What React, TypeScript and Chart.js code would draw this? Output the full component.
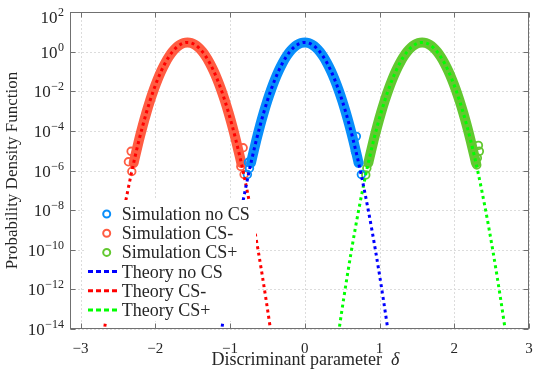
import React, { useEffect, useRef } from "react";
import { Chart, registerables } from "chart.js";

Chart.register(...registerables);

// ---------- axis ranges & ticks ----------
const xMin = -3.1416;
const xMax = 3;
const yMin = 1e-14;
const yMax = 1e2;

const xTickValues = [-3, -2, -1, 0, 1, 2, 3];
const xTickLabels = ["−3", "−2", "−1", "0", "1", "2", "3"];
const yTickValues = [1e-14, 1e-12, 1e-10, 1e-8, 1e-6, 1e-4, 1e-2, 1e0, 1e2];
const yTickExponents = ["−14", "−12", "−10", "−8", "−6", "−4", "−2", "0", "2"];

const seriesLabels = [
  "Simulation no CS",
  "Simulation CS-",
  "Simulation CS+",
  "Theory no CS",
  "Theory CS-",
  "Theory CS+",
];

// ---------- simulation (histogram) bands ----------
const simNoCsX = [-0.72, -0.7, -0.65, -0.6, -0.55, -0.5, -0.45, -0.4, -0.35, -0.3, -0.25, -0.2, -0.15, -0.1, -0.05, 0, 0.05, 0.1, 0.15, 0.2, 0.25, 0.3, 0.35, 0.4, 0.45, 0.5, 0.55, 0.6, 0.65, 0.7, 0.72];
const simNoCsY = [2.4e-6, 5.2e-6, 3.2e-5, 1.74e-4, 8.2e-4, 3.4e-3, 1.23e-2, 3.88e-2, 0.107, 0.257, 0.541, 0.994, 1.6, 2.24, 2.74, 2.93, 2.74, 2.24, 1.6, 0.994, 0.541, 0.257, 0.107, 3.88e-2, 1.23e-2, 3.4e-3, 8.2e-4, 1.74e-4, 3.2e-5, 5.2e-6, 2.4e-6];

const simCsMinusX = [-2.29, -2.27, -2.22, -2.17, -2.12, -2.07, -2.02, -1.97, -1.92, -1.87, -1.82, -1.77, -1.72, -1.67, -1.62, -1.57, -1.52, -1.47, -1.42, -1.37, -1.32, -1.27, -1.22, -1.17, -1.12, -1.07, -1.02, -0.97, -0.92, -0.87, -0.85];
const simCsMinusY = [2.4e-6, 5.2e-6, 3.2e-5, 1.74e-4, 8.2e-4, 3.4e-3, 1.23e-2, 3.88e-2, 0.107, 0.257, 0.541, 0.994, 1.6, 2.24, 2.74, 2.93, 2.74, 2.24, 1.6, 0.994, 0.541, 0.257, 0.107, 3.88e-2, 1.23e-2, 3.4e-3, 8.2e-4, 1.74e-4, 3.2e-5, 5.2e-6, 2.4e-6];

const simCsPlusX = [0.85, 0.87, 0.92, 0.97, 1.02, 1.07, 1.12, 1.17, 1.22, 1.27, 1.32, 1.37, 1.42, 1.47, 1.52, 1.57, 1.62, 1.67, 1.72, 1.77, 1.82, 1.87, 1.92, 1.97, 2.02, 2.07, 2.12, 2.17, 2.22, 2.27, 2.29];
const simCsPlusY = [2.4e-6, 5.2e-6, 3.2e-5, 1.74e-4, 8.2e-4, 3.4e-3, 1.23e-2, 3.88e-2, 0.107, 0.257, 0.541, 0.994, 1.6, 2.24, 2.74, 2.93, 2.74, 2.24, 1.6, 0.994, 0.541, 0.257, 0.107, 3.88e-2, 1.23e-2, 3.4e-3, 8.2e-4, 1.74e-4, 3.2e-5, 5.2e-6, 2.4e-6];

// scattered low-count histogram points at the tails
const tailNoCsX = [-0.768, -0.755, -0.74, 0.69, 0.677, 0.757];
const tailNoCsY = [6.3e-7, 2.6e-6, 1.3e-6, 5.3e-5, 9.3e-6, 6.3e-7];
const tailCsMinusX = [-2.324, -2.36, -2.315, -0.825, -0.856, -0.812];
const tailCsMinusY = [9.3e-6, 2.75e-6, 8.9e-7, 1.4e-5, 1.6e-6, 6.3e-7];
const tailCsPlusX = [0.816, 0.83, 2.323, 2.336, 2.309, 2.301];
const tailCsPlusY = [6.0e-7, 1.3e-6, 1.85e-5, 9.3e-6, 4.3e-6, 1.9e-6];

// ---------- theory curves ----------
const theoryNoCsX = [-1.2, -1.1, -1.0, -0.9, -0.8, -0.7, -0.6, -0.5, -0.4, -0.3, -0.2, -0.1, 0, 0.1, 0.2, 0.3, 0.4, 0.5, 0.6, 0.7, 0.8, 0.9, 1.0, 1.1, 1.2];
const theoryNoCsY = [3.6e-17, 1.83e-14, 5.3e-12, 9.1e-10, 9.0e-8, 5.2e-6, 1.74e-4, 3.4e-3, 3.88e-2, 0.257, 0.994, 2.24, 2.93, 2.24, 0.994, 0.257, 3.88e-2, 3.4e-3, 1.74e-4, 5.2e-6, 9.0e-8, 9.1e-10, 5.3e-12, 1.83e-14, 3.6e-17];
const theoryCsMinusX = [-2.77, -2.67, -2.57, -2.47, -2.37, -2.27, -2.17, -2.07, -1.97, -1.87, -1.77, -1.67, -1.57, -1.47, -1.37, -1.27, -1.17, -1.07, -0.97, -0.87, -0.77, -0.67, -0.57, -0.47, -0.37];
const theoryCsMinusY = [3.6e-17, 1.83e-14, 5.3e-12, 9.1e-10, 9.0e-8, 5.2e-6, 1.74e-4, 3.4e-3, 3.88e-2, 0.257, 0.994, 2.24, 2.93, 2.24, 0.994, 0.257, 3.88e-2, 3.4e-3, 1.74e-4, 5.2e-6, 9.0e-8, 9.1e-10, 5.3e-12, 1.83e-14, 3.6e-17];
const theoryCsPlusX = [0.37, 0.47, 0.57, 0.67, 0.77, 0.87, 0.97, 1.07, 1.17, 1.27, 1.37, 1.47, 1.57, 1.67, 1.77, 1.87, 1.97, 2.07, 2.17, 2.27, 2.37, 2.47, 2.57, 2.67, 2.77];
const theoryCsPlusY = [3.6e-17, 1.83e-14, 5.3e-12, 9.1e-10, 9.0e-8, 5.2e-6, 1.74e-4, 3.4e-3, 3.88e-2, 0.257, 0.994, 2.24, 2.93, 2.24, 0.994, 0.257, 3.88e-2, 3.4e-3, 1.74e-4, 5.2e-6, 9.0e-8, 9.1e-10, 5.3e-12, 1.83e-14, 3.6e-17];

// ---------- styles ----------
const SIM_COLORS = ["rgb(8,142,250)", "rgb(255,92,66)", "rgb(98,200,48)"];
const THEORY_COLORS = ["#0000ff", "#ff0000", "#00ff00"];
const TEXT = "#262626";
const FRAME = "#707070";
const SERIF = '"Liberation Serif", "Times New Roman", serif';

const zip = (xs: number[], ys: number[]) => xs.map((x, i) => ({ x, y: ys[i] }));

const simBand = (label: string, xs: number[], ys: number[], color: string) => ({
  label,
  data: zip(xs, ys),
  borderColor: color,
  backgroundColor: color,
  borderWidth: 10,
  borderCapStyle: "round" as const,
  borderJoinStyle: "round" as const,
  pointRadius: 0,
  cubicInterpolationMode: "monotone" as const,
  fill: false,
  order: 2,
});

const simTail = (label: string, xs: number[], ys: number[], color: string) => ({
  label,
  data: zip(xs, ys),
  showLine: false,
  pointRadius: 3.8,
  pointBorderWidth: 1.8,
  pointBorderColor: color,
  pointBackgroundColor: "rgba(0,0,0,0)",
  borderColor: color,
  order: 1,
});

const theory = (label: string, xs: number[], ys: number[], color: string) => ({
  label,
  data: zip(xs, ys),
  borderColor: color,
  borderWidth: 3,
  borderDash: [3, 3.4],
  pointRadius: 0,
  cubicInterpolationMode: "monotone" as const,
  fill: false,
  clip: 0,
  order: 0,
});

const decorPlugin = {
  id: "decor",
  beforeDatasetsDraw(chart: any) {
    const { ctx, chartArea: a, scales } = chart;
    const xs = scales.x;
    const ys = scales.y;
    ctx.save();
    ctx.strokeStyle = "#dcdcdc";
    ctx.lineWidth = 1;
    ctx.setLineDash([2, 2]);
    xTickValues.forEach((v) => {
      const px = Math.round(xs.getPixelForValue(v)) + 0.5;
      ctx.beginPath();
      ctx.moveTo(px, a.top);
      ctx.lineTo(px, a.bottom);
      ctx.stroke();
    });
    yTickValues.forEach((v) => {
      const py = Math.round(ys.getPixelForValue(v)) + 0.5;
      ctx.beginPath();
      ctx.moveTo(a.left, py);
      ctx.lineTo(a.right, py);
      ctx.stroke();
    });
    ctx.restore();
  },
  afterDatasetsDraw(chart: any) {
    const { ctx, chartArea: a, scales } = chart;
    const xs = scales.x;
    const ys = scales.y;
    ctx.save();
    // frame
    ctx.strokeStyle = FRAME;
    ctx.lineWidth = 1;
    ctx.setLineDash([]);
    const L = Math.round(a.left) + 0.5;
    const R = Math.round(a.right) - 0.5;
    const T = Math.round(a.top) + 0.5;
    const B = Math.round(a.bottom) - 0.5;
    ctx.strokeRect(L, T, R - L, B - T);
    const tl = 5;
    xTickValues.forEach((v) => {
      const px = Math.round(xs.getPixelForValue(v)) + 0.5;
      ctx.beginPath();
      ctx.moveTo(px, B);
      ctx.lineTo(px, B - tl);
      ctx.moveTo(px, T);
      ctx.lineTo(px, T + tl);
      ctx.stroke();
    });
    yTickValues.forEach((v) => {
      const py = Math.round(ys.getPixelForValue(v)) + 0.5;
      ctx.beginPath();
      ctx.moveTo(L, py);
      ctx.lineTo(L + tl, py);
      ctx.moveTo(R, py);
      ctx.lineTo(R - tl, py);
      ctx.stroke();
    });

    // x tick labels
    ctx.fillStyle = TEXT;
    ctx.font = `15px ${SERIF}`;
    ctx.textAlign = "center";
    ctx.textBaseline = "alphabetic";
    xTickValues.forEach((v, i) => {
      ctx.fillText(xTickLabels[i], xs.getPixelForValue(v), a.bottom + 24);
    });

    // y tick labels: 10^k
    yTickValues.forEach((v, i) => {
      const py = Math.max(ys.getPixelForValue(v), a.top + 5);
      const rightX = a.left - 6;
      ctx.textAlign = "right";
      ctx.font = `12px ${SERIF}`;
      const ew = ctx.measureText(yTickExponents[i]).width;
      ctx.fillText(yTickExponents[i], rightX, py - 1);
      ctx.font = `17px ${SERIF}`;
      ctx.fillText("10", rightX - ew - 0.5, py + 6);
    });

    // axis titles
    ctx.font = `18px ${SERIF}`;
    ctx.textAlign = "left";
    const main = "Discriminant parameter  ";
    const mw = ctx.measureText(main).width;
    ctx.font = `italic 18px ${SERIF}`;
    const dw = ctx.measureText("δ").width;
    const cx = (a.left + a.right) / 2 + 6;
    const sx = cx - (mw + dw) / 2;
    ctx.font = `18px ${SERIF}`;
    ctx.fillText(main, sx, a.bottom + 36);
    ctx.font = `italic 18px ${SERIF}`;
    ctx.fillText("δ", sx + mw, a.bottom + 36);

    ctx.save();
    ctx.translate(16.5, (a.top + a.bottom) / 2);
    ctx.rotate(-Math.PI / 2);
    ctx.font = `17px ${SERIF}`;
    ctx.textAlign = "center";
    ctx.textBaseline = "alphabetic";
    ctx.fillText("Probability Density Function", 0, 0);
    ctx.restore();

    // legend (inside the axes, white background)
    ctx.fillStyle = "#ffffff";
    ctx.fillRect(85, 200, 171, 121);
    seriesLabels.forEach((label, i) => {
      const cy = 214 + i * 19.2;
      if (i < 3) {
        ctx.beginPath();
        ctx.arc(106.7, cy, 3.5, 0, Math.PI * 2);
        ctx.lineWidth = 2;
        ctx.strokeStyle = SIM_COLORS[i];
        ctx.setLineDash([]);
        ctx.stroke();
      } else {
        ctx.beginPath();
        ctx.moveTo(88, cy);
        ctx.lineTo(117, cy);
        ctx.lineWidth = 3;
        ctx.strokeStyle = THEORY_COLORS[i - 3];
        ctx.setLineDash([5, 3]);
        ctx.stroke();
        ctx.setLineDash([]);
      }
      ctx.fillStyle = TEXT;
      ctx.font = `18px ${SERIF}`;
      ctx.textAlign = "left";
      ctx.fillText(label, 121.7, cy + 6);
    });
    ctx.restore();
  },
};

export default function App() {
  const ref = useRef<HTMLCanvasElement | null>(null);
  useEffect(() => {
    if (!ref.current) return;
    const chart = new Chart(ref.current, {
      type: "line",
      data: {
        datasets: [
          theory(seriesLabels[3], theoryNoCsX, theoryNoCsY, THEORY_COLORS[0]),
          theory(seriesLabels[4], theoryCsMinusX, theoryCsMinusY, THEORY_COLORS[1]),
          theory(seriesLabels[5], theoryCsPlusX, theoryCsPlusY, THEORY_COLORS[2]),
          simTail(seriesLabels[0], tailNoCsX, tailNoCsY, SIM_COLORS[0]),
          simTail(seriesLabels[1], tailCsMinusX, tailCsMinusY, SIM_COLORS[1]),
          simTail(seriesLabels[2], tailCsPlusX, tailCsPlusY, SIM_COLORS[2]),
          simBand(seriesLabels[0], simNoCsX, simNoCsY, SIM_COLORS[0]),
          simBand(seriesLabels[1], simCsMinusX, simCsMinusY, SIM_COLORS[1]),
          simBand(seriesLabels[2], simCsPlusX, simCsPlusY, SIM_COLORS[2]),
        ] as any,
      },
      options: {
        responsive: false,
        animation: false,
        events: [],
        layout: { padding: { top: 12, right: 8, left: 0, bottom: 0 } },
        plugins: { legend: { display: false }, tooltip: { enabled: false } },
        scales: {
          x: {
            type: "linear",
            min: xMin,
            max: xMax,
            bounds: "data",
            grid: { display: false },
            border: { display: false },
            ticks: { display: false },
            afterFit: (s: any) => {
              s.height = 44;
            },
          },
          y: {
            type: "logarithmic",
            min: yMin,
            max: yMax,
            grid: { display: false },
            border: { display: false },
            ticks: { display: false },
            afterFit: (s: any) => {
              s.width = 70;
            },
          },
        },
      } as any,
      plugins: [decorPlugin],
    });
    return () => chart.destroy();
  }, []);
  return (
    <div style={{ position: "absolute", left: 0, top: 0, width: 537, height: 373, background: "#fff" }}>
      <canvas ref={ref} width={537} height={373} />
    </div>
  );
}
